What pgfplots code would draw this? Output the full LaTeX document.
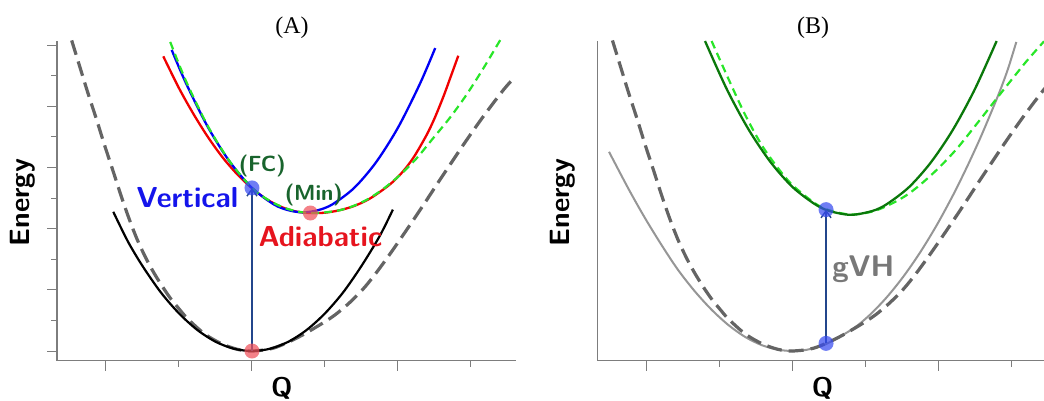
\documentclass[border=0pt]{standalone}
\usepackage{fontspec}
\usepackage{pgfplots}
\pgfplotsset{compat=1.18}
\usetikzlibrary{arrows.meta}
\newfontfamily\titlefont{Liberation Serif}

\definecolor{axisgray}{RGB}{125,125,125}
\definecolor{pesblue}{RGB}{0,0,245}
\definecolor{pesred}{RGB}{240,0,0}
\definecolor{limegreen}{RGB}{40,230,40}
\definecolor{darkgreen}{RGB}{10,120,10}
\definecolor{dashgray}{RGB}{100,100,100}
\definecolor{lightgray}{RGB}{150,150,150}
\definecolor{labblue}{RGB}{20,20,235}
\definecolor{labred}{RGB}{230,20,30}
\definecolor{labgreen}{RGB}{25,100,45}
\definecolor{labgray}{RGB}{120,120,120}
\definecolor{dotred}{RGB}{240,80,90}
\definecolor{dotblue}{RGB}{55,75,240}
\definecolor{arrowblue}{RGB}{35,70,140}

\newcommand{\labfont}[1]{\sffamily\bfseries\fontsize{#1}{#1}\selectfont}

\begin{document}
\begin{tikzpicture}
\path[use as bounding box] (0,0) rectangle (1044bp,401bp);

\pgfplotsset{
  pes/.style={
    x=73bp, y=30.6bp,
    ymin=-0.31, ymax=10.13,
    axis x line*=bottom, axis y line*=left,
    axis line style={-, draw=axisgray, line width=1.1bp},
    tick align=outside,
    major tick length=10bp, minor tick length=6bp,
    tick style={draw=axisgray, line width=1bp},
    xtick={-2,0,2}, minor xtick={-1,1,3},
    xticklabels={}, yticklabels={},
    clip=false,
    xlabel={Q}, ylabel={Energy},
  },
  dot/.style={only marks, mark=*, mark size=7.5bp,
    mark options={draw=#1, draw opacity=0, fill=#1, fill opacity=0.72}},
  trans/.style={arrowblue, line width=1.2bp,
    -{Straight Barb[length=7bp,width=10bp,line width=1.4bp]}},
}

% ---------------- (A) ----------------
\begin{axis}[pes,
  at={(57bp,40.5bp)}, anchor=south west,
  xmin=-2.671, xmax=3.616,
  ytick={0,2,...,10}, minor ytick={1,3,...,9},
  title={(A)},
  every axis title/.style={at={(axis description cs:0.512,1)}, anchor=base,
    yshift=8bp, font=\titlefont\fontsize{24}{26}\selectfont},
  every axis x label/.style={at={(axis description cs:0.49,0)}, anchor=base,
    yshift=-36.2bp, font=\labfont{27}},
  every axis y label/.style={at={(axis description cs:-0.061,0.4945)}, rotate=90,
    anchor=base, font=\labfont{28}},
]
% ground state
\addplot[dashgray, line width=3.2bp, dash pattern=on 15bp off 7bp, smooth] coordinates {
  (-2.47,10.15) (-2.36,9.3) (-2.25,8.45) (-2.13,7.57) (-2.02,6.73) (-1.90,5.86)
  (-1.79,5.05) (-1.68,4.3) (-1.57,3.63) (-1.45,3.02) (-1.34,2.54) (-1.22,2.08)
  (-1.11,1.70) (-1.0,1.38) (-0.88,1.05) (-0.65,0.56) (-0.42,0.24) (-0.2,0.055)
  (0,0) (0.3,0.10) (0.65,0.47) (1.06,1.05) (1.3,1.5) (1.52,2.02) (1.7,2.55)
  (1.89,3.17) (2.05,3.72) (2.21,4.28) (2.4,4.96) (2.57,5.58) (2.73,6.15)
  (2.89,6.72) (3.05,7.27) (3.21,7.8) (3.45,8.55) (3.58,8.9)};
\addplot[black, line width=2.2bp, smooth] coordinates {
  (-1.90,4.55) (-1.70,3.58) (-1.50,2.78) (-1.25,1.92) (-1.0,1.23) (-0.75,0.69)
  (-0.5,0.305) (-0.25,0.076) (0,0) (0.25,0.076) (0.5,0.305) (0.75,0.69)
  (1.0,1.23) (1.25,1.92) (1.5,2.78) (1.75,3.76) (1.93,4.62)};
% excited states
\addplot[pesred, line width=2.3bp, smooth] coordinates {
  (-1.215,9.63) (-1.0,8.59) (-0.8,7.74) (-0.6,6.98) (-0.4,6.32) (-0.2,5.77)
  (0.0,5.32) (0.2,4.96) (0.4,4.71) (0.6,4.56) (0.8,4.51) (1.0,4.52) (1.2,4.6)
  (1.4,4.74) (1.6,4.96) (1.8,5.28) (1.94,5.55) (2.08,5.9) (2.22,6.35)
  (2.39,7.05) (2.5,7.6) (2.62,8.3) (2.72,8.95) (2.826,9.65)};
\addplot[pesblue, line width=2.3bp, smooth] coordinates {
  (-1.10,9.84) (-0.9,8.73) (-0.6,7.30) (-0.3,6.17) (0,5.33) (0.3,4.79)
  (0.5,4.60) (0.7,4.53) (0.9,4.60) (1.1,4.79) (1.4,5.33) (1.7,6.17)
  (2.0,7.30) (2.3,8.73) (2.51,9.90)};
\addplot[limegreen, line width=2.2bp, dash pattern=on 8bp off 5bp, smooth] coordinates {
  (-1.12,10.1) (-0.9,8.8) (-0.6,7.33) (-0.3,6.18) (0,5.33) (0.2,4.97)
  (0.4,4.72) (0.6,4.57) (0.8,4.51) (1.0,4.53) (1.2,4.6) (1.4,4.75) (1.6,4.98)
  (1.8,5.3) (2.027,5.75) (2.256,6.3) (2.48,6.95) (2.71,7.62) (2.94,8.38)
  (3.17,9.24) (3.40,10.16)};
% points and vertical transition
\addplot[dot=dotred] coordinates {(0,0) (0.8,4.51)};
\addplot[dot=dotblue] coordinates {(0,5.33)};
\addplot[trans] coordinates {(0,0) (0,5.33)};
\node[anchor=base, text=labgreen, font=\labfont{22}] at (axis cs:0.141,5.86) {(FC)};
\node[anchor=base, text=labgreen, font=\labfont{22}] at (axis cs:0.847,4.93) {(Min)};
\node[anchor=base east, text=labblue, font=\labfont{29}] at (axis cs:-0.141,4.70) {Vertical};
\node[anchor=base west, text=labred, font=\labfont{29}] at (axis cs:0.041,3.41) {Adiabatic};
\end{axis}

% ---------------- (B) ----------------
\begin{axis}[pes,
  at={(597.5bp,40.5bp)}, anchor=south west,
  x=72.9bp,
  xmin=-2.675, xmax=3.5,
  ytick=\empty,
  title={(B)},
  every axis title/.style={at={(axis description cs:0.479,1)}, anchor=base,
    yshift=8bp, font=\titlefont\fontsize{24}{26}\selectfont},
  every axis x label/.style={at={(axis description cs:0.50,0)}, anchor=base,
    yshift=-36.2bp, font=\labfont{27}},
  every axis y label/.style={at={(axis description cs:-0.062,0.4945)}, rotate=90,
    anchor=base, font=\labfont{28}},
]
\addplot[lightgray, line width=2bp, smooth] coordinates {
  (-2.517,6.51) (-2.25,5.3) (-2.02,4.33) (-1.79,3.44) (-1.57,2.65) (-1.34,1.95)
  (-1.11,1.35) (-0.88,0.85) (-0.65,0.46) (-0.42,0.19) (-0.2,0.045) (0,0)
  (0.2,0.042) (0.47,0.24) (0.83,0.73) (1.06,1.18) (1.29,1.75) (1.52,2.43)
  (1.75,3.22) (1.98,4.12) (2.21,5.13) (2.4,6.05) (2.57,6.93) (2.72,7.77)
  (2.85,8.53) (2.96,9.25) (3.07,10.1)};
\addplot[dashgray, line width=3.2bp, dash pattern=on 15bp off 7bp, smooth] coordinates {
  (-2.47,10.15) (-2.36,9.3) (-2.25,8.45) (-2.13,7.57) (-2.02,6.73) (-1.90,5.86)
  (-1.79,5.05) (-1.68,4.3) (-1.57,3.63) (-1.45,3.02) (-1.34,2.54) (-1.22,2.08)
  (-1.11,1.70) (-1.0,1.38) (-0.88,1.05) (-0.65,0.56) (-0.42,0.24) (-0.2,0.055)
  (0,0) (0.3,0.10) (0.65,0.47) (1.06,1.05) (1.3,1.5) (1.52,2.02) (1.7,2.55)
  (1.89,3.17) (2.05,3.72) (2.21,4.28) (2.4,4.96) (2.57,5.58) (2.73,6.15)
  (2.89,6.72) (3.05,7.27) (3.21,7.8) (3.45,8.55) (3.58,8.9)};
\addplot[limegreen, line width=2.2bp, dash pattern=on 8bp off 5bp, smooth] coordinates {
  (-1.11,10.13) (-0.88,8.9) (-0.65,7.72) (-0.42,6.72) (-0.2,5.98) (0.0,5.42)
  (0.3,4.84) (0.5,4.6) (0.8,4.46) (1.1,4.56) (1.33,4.78) (1.55,5.07) (1.75,5.43)
  (2.0,5.97) (2.25,6.6) (2.52,7.4) (2.8,8.25) (3.0,8.85) (3.21,9.47) (3.45,10.12)};
\addplot[darkgreen, line width=2.3bp, smooth] coordinates {
  (-1.2,10.13) (-0.9,8.55) (-0.6,7.23) (-0.3,6.17) (0.0,5.36) (0.3,4.81)
  (0.5,4.58) (0.8,4.45) (1.1,4.58) (1.3,4.81) (1.6,5.36) (1.9,6.17)
  (2.2,7.23) (2.5,8.55) (2.8,10.13)};
\addplot[dot=dotblue] coordinates {(0.46,0.25) (0.46,4.62)};
\addplot[trans] coordinates {(0.46,0.25) (0.46,4.62)};
\node[anchor=base west, text=labgray, font=\labfont{30}] at (axis cs:0.497,2.43) {gVH};
\end{axis}
\end{tikzpicture}
\end{document}
